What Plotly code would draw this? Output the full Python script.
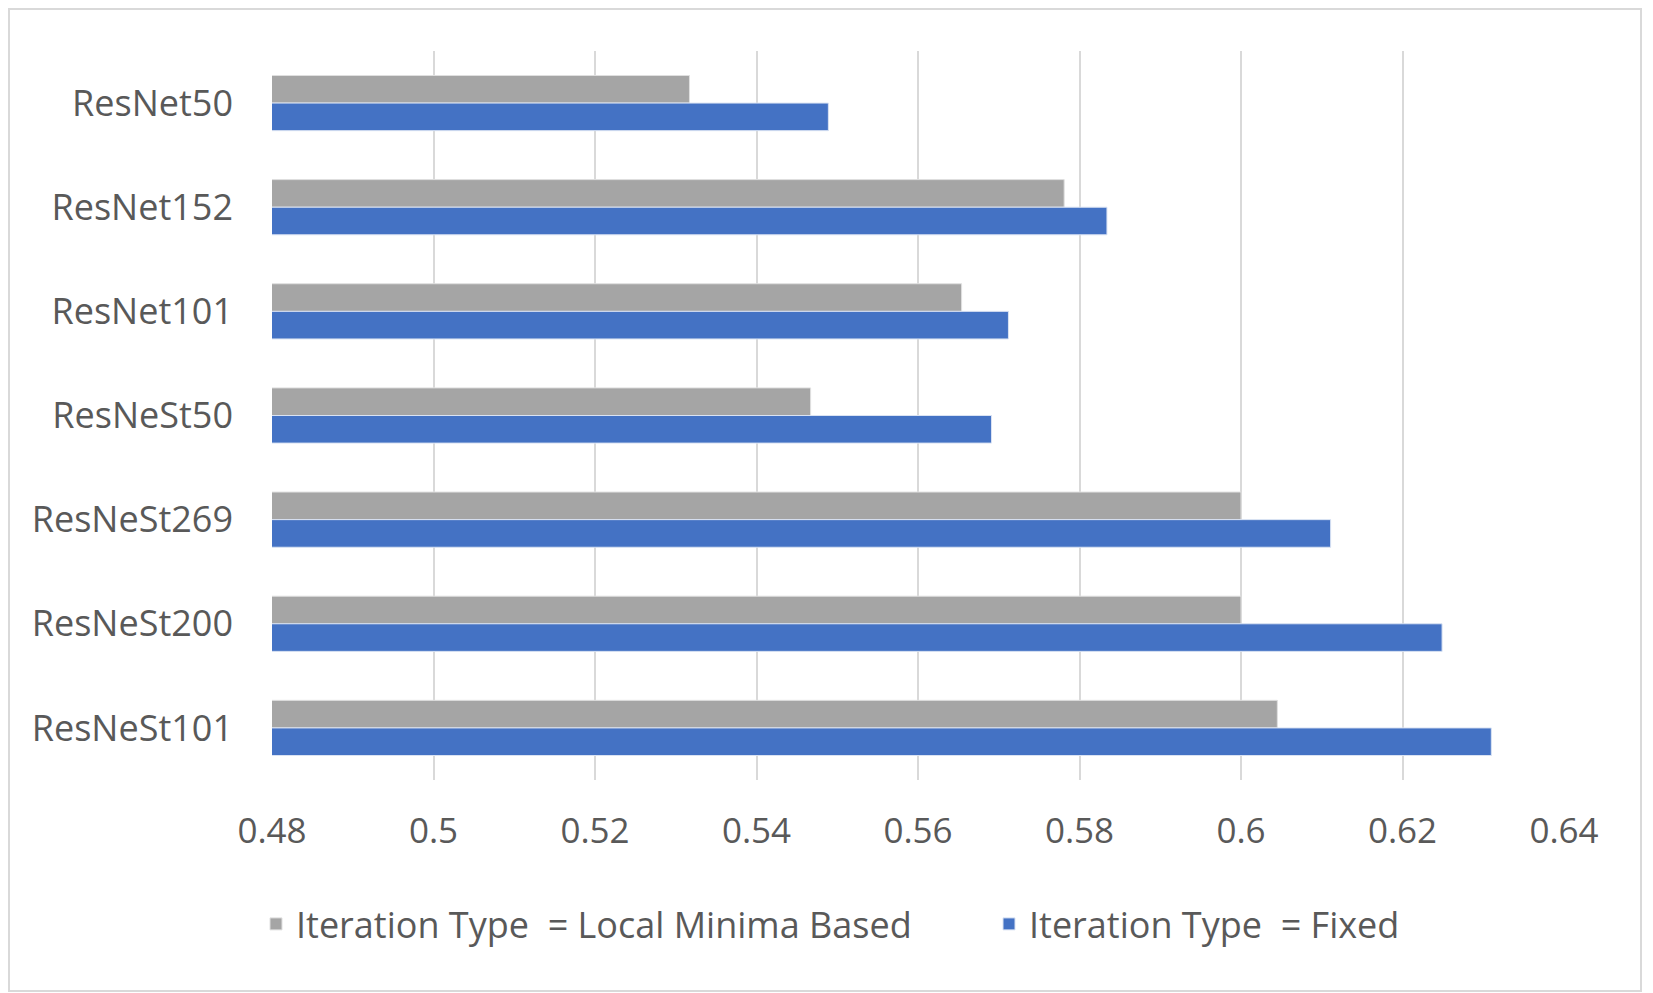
import plotly.graph_objects as go

# data
modelos = ["ResNet50", "ResNet152", "ResNet101", "ResNeSt50", "ResNeSt269", "ResNeSt200", "ResNeSt101"]
local_minima = [0.5317, 0.5781, 0.5654, 0.5467, 0.6000, 0.6000, 0.6045]
fijo = [0.5489, 0.5834, 0.5712, 0.5691, 0.6111, 0.6249, 0.6310]
ticks_x = [0.48, 0.5, 0.52, 0.54, 0.56, 0.58, 0.6, 0.62, 0.64]
ticks_txt = ["0.48", "0.5", "0.52", "0.54", "0.56", "0.58", "0.6", "0.62", "0.64"]

gris = "#A5A5A5"
azul = "#4472C4"
texto = "#595959"

# page body has an 8px margin, so figure is a bit smaller than the window
W, H = 1645, 985
ml, mr, mt, mb = 264, 89, 43, 213

fig = go.Figure()
fig.add_trace(go.Bar(y=modelos, x=local_minima, orientation="h",
                     name="Iteration Type  = Local Minima Based", legend="legend",
                     marker=dict(color=gris, line=dict(color="#e0e0e0", width=1))))
fig.add_trace(go.Bar(y=modelos, x=fijo, orientation="h",
                     name="Iteration Type  = Fixed", legend="legend2",
                     marker=dict(color=azul, line=dict(color="#dae3f3", width=1))))

leg = dict(orientation="h", xref="container", xanchor="left",
           yref="container", y=1 - 916 / H, yanchor="middle",
           font=dict(size=36, color=texto), itemwidth=30)
fig.update_layout(
    width=W, height=H,
    margin=dict(l=ml, r=mr, t=mt, b=mb),
    barmode="group", bargap=0.47, bargroupgap=0,
    plot_bgcolor="white", paper_bgcolor="white",
    font=dict(family="Open Sans", size=26, color=texto),
    legend=dict(leg, x=248 / W),
    legend2=dict(leg, x=981 / W),
    showlegend=True,
)
fig.update_xaxes(range=[0.48, 0.64], tickvals=ticks_x, ticktext=ticks_txt,
                 showgrid=True, gridcolor="#d9d9d9", gridwidth=2,
                 zeroline=False, showline=False, ticks="",
                 ticklabelstandoff=27, tickfont=dict(size=35))
fig.update_yaxes(categoryorder="array", categoryarray=modelos, autorange="reversed",
                 showgrid=False, zeroline=False, showline=False, ticks="",
                 ticklabelstandoff=38, tickfont=dict(size=36))

# thin border round the whole chart
pw, ph = W - ml - mr, H - mt - mb
fig.add_shape(type="rect", xref="paper", yref="paper",
              x0=(-ml + 1) / pw, x1=1 + (mr - 12) / pw,
              y0=(-mb + 2) / ph, y1=1 + (mt - 1) / ph,
              line=dict(color="#d9d9d9", width=2), layer="below")

fig.write_html("out.html")
